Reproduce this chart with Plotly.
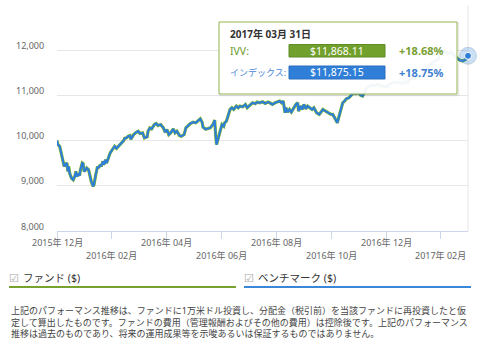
import plotly.graph_objects as go

# ---- data -------------------------------------------------------------
dates = [
    "2015-12-31", "2016-01-01", "2016-01-03", "2016-01-05", "2016-01-06", "2016-01-08",
    "2016-01-09", "2016-01-11", "2016-01-12", "2016-01-13", "2016-01-14", "2016-01-16",
    "2016-01-18", "2016-01-20", "2016-01-21", "2016-01-22", "2016-01-24", "2016-01-25",
    "2016-01-26", "2016-01-28", "2016-01-29", "2016-01-30", "2016-02-01", "2016-02-02",
    "2016-02-04", "2016-02-06", "2016-02-07", "2016-02-09", "2016-02-10", "2016-02-12",
    "2016-02-14", "2016-02-15", "2016-02-17", "2016-02-18", "2016-02-20", "2016-02-21",
    "2016-02-23", "2016-02-24", "2016-02-26", "2016-02-28", "2016-03-01", "2016-03-02",
    "2016-03-04", "2016-03-06", "2016-03-08", "2016-03-10", "2016-03-12", "2016-03-14",
    "2016-03-15", "2016-03-17", "2016-03-19", "2016-03-21", "2016-03-22", "2016-03-25",
    "2016-03-28", "2016-03-30", "2016-04-01", "2016-04-04", "2016-04-06", "2016-04-09",
    "2016-04-10", "2016-04-12", "2016-04-14", "2016-04-17", "2016-04-19", "2016-04-21",
    "2016-04-24", "2016-04-27", "2016-04-29", "2016-05-01", "2016-05-03", "2016-05-05",
    "2016-05-08", "2016-05-10", "2016-05-12", "2016-05-15", "2016-05-17", "2016-05-20",
    "2016-05-22", "2016-05-25", "2016-05-27", "2016-05-30", "2016-06-02", "2016-06-04",
    "2016-06-07", "2016-06-09", "2016-06-10", "2016-06-13", "2016-06-16", "2016-06-18",
    "2016-06-21", "2016-06-23", "2016-06-24", "2016-06-25", "2016-06-27", "2016-06-29",
    "2016-07-01", "2016-07-03", "2016-07-04", "2016-07-06", "2016-07-08", "2016-07-10",
    "2016-07-12", "2016-07-14", "2016-07-16", "2016-07-17", "2016-07-19", "2016-07-21",
    "2016-07-24", "2016-07-27", "2016-07-29", "2016-08-01", "2016-08-04", "2016-08-07",
    "2016-08-09", "2016-08-12", "2016-08-15", "2016-08-18", "2016-08-21", "2016-08-23",
    "2016-08-26", "2016-08-29", "2016-08-31", "2016-09-03", "2016-09-05", "2016-09-07",
    "2016-09-09", "2016-09-10", "2016-09-12", "2016-09-14", "2016-09-16", "2016-09-18",
    "2016-09-21", "2016-09-23", "2016-09-24", "2016-09-26", "2016-09-28", "2016-09-30",
    "2016-10-02", "2016-10-04", "2016-10-07", "2016-10-09", "2016-10-11", "2016-10-14",
    "2016-10-17", "2016-10-19", "2016-10-21", "2016-10-24", "2016-10-27", "2016-10-30",
    "2016-11-01", "2016-11-03", "2016-11-05", "2016-11-06", "2016-11-08", "2016-11-10",
    "2016-11-12", "2016-11-14", "2016-11-16", "2016-11-19", "2016-11-21", "2016-11-24",
    "2016-11-26", "2016-11-29", "2016-12-02", "2016-12-04", "2016-12-06", "2016-12-08",
    "2016-12-11", "2016-12-15", "2016-12-18", "2016-12-21", "2016-12-25", "2016-12-28",
    "2016-12-31", "2017-01-03", "2017-01-07", "2017-01-10", "2017-01-13", "2017-01-17",
    "2017-01-20", "2017-01-23", "2017-01-27", "2017-01-30", "2017-02-02", "2017-02-06",
    "2017-02-09", "2017-02-12", "2017-02-16", "2017-02-19", "2017-02-22", "2017-02-26",
    "2017-03-01", "2017-03-03", "2017-03-05", "2017-03-09", "2017-03-12", "2017-03-15",
    "2017-03-19", "2017-03-21", "2017-03-23", "2017-03-25", "2017-03-28", "2017-03-31",
]

index_values = [
    10000, 9911, 9873, 9689, 9540, 9429,
    9467, 9504, 9318, 9429, 9282, 9171,
    9133, 9222, 9318, 9207, 9267, 9222,
    9356, 9504, 9489, 9318, 9356, 9393,
    9356, 9171, 9096, 8990, 9022, 9244,
    9429, 9393, 9467, 9429, 9540, 9467,
    9578, 9504, 9637, 9727, 9790, 9815,
    9874, 9830, 9874, 9930, 9960, 10000,
    10050, 10060, 10096, 10110, 10030, 10133,
    10185, 10207, 10156, 10170, 10059, 10081,
    10207, 10281, 10259, 10355, 10378, 10333,
    10355, 10281, 10185, 10244, 10133, 10170,
    10259, 10170, 10207, 10111, 10096, 10133,
    10281, 10355, 10378, 10407, 10393, 10430,
    10481, 10407, 10300, 10250, 10270, 10281,
    10355, 10452, 10133, 9911, 10059, 10244,
    10355, 10318, 10393, 10430, 10578, 10689,
    10726, 10689, 10741, 10763, 10726, 10763,
    10748, 10800, 10726, 10778, 10837, 10815,
    10852, 10837, 10859, 10822, 10852, 10837,
    10800, 10837, 10852, 10874, 10837, 10874,
    10615, 10726, 10630, 10689, 10630, 10704,
    10800, 10837, 10652, 10763, 10689, 10800,
    10704, 10763, 10726, 10689, 10726, 10615,
    10578, 10630, 10689, 10652, 10615, 10578,
    10578, 10504, 10430, 10393, 10541, 10689,
    10837, 10874, 10926, 10948, 11000, 11059,
    11037, 11059, 11000, 10985, 11059, 11148,
    11200, 11230, 11220, 11240, 11210, 11200,
    11190, 11250, 11290, 11280, 11290, 11260,
    11300, 11280, 11420, 11370, 11400, 11440,
    11500, 11560, 11680, 11720, 11760, 11800,
    12010, 11990, 11980, 11920, 11960, 11900,
    11820, 11790, 11770, 11760, 11790, 11875.15,
]

# the fund tracks the index almost exactly; only the closing value differs
fund_values = index_values[:-1] + [11868.11]

fund_name = "IVV"
index_name = "インデックス"
fund_return = "+18.68%"
index_return = "+18.75%"
last_date_label = "2017年 03月 31日"

tick_dates = ["2015-12-31", "2016-02-29", "2016-04-30", "2016-06-30",
              "2016-08-31", "2016-10-31", "2016-12-31", "2017-02-28"]
tick_labels = ["2015年 12月", "2016年 02月", "2016年 04月", "2016年 06月",
               "2016年 08月", "2016年 10月", "2016年 12月", "2017年 02月"]
y_ticks = [8000, 9000, 10000, 11000, 12000, 13000]
y_labels = ["8,000", "9,000", "10,000", "11,000", "12,000"]

legend_labels = ["ファンド ($)", "ベンチマーク ($)"]
note_lines = [
    "上記のパフォーマンス推移は、ファンドに1万米ドル投資し、分配金（税引前）を当該ファンドに再投資したと仮",
    "定して算出したものです。ファンドの費用（管理報酬およびその他の費用）は控除後です。上記のパフォーマンス",
    "推移は過去のものであり、将来の運用成果等を示唆あるいは保証するものではありません。",
]

# ---- styling ----------------------------------------------------------
W, H = 480, 342
ML, MR, MT, MB = 57, 12, 5, 111
PW, PH = W - ML - MR, H - MT - MB
FONT = "Noto Sans, Noto Sans CJK JP, sans-serif"
GREEN, BLUE = "#8bbc21", "#2f7ed8"


def px(x):
    return (x - ML) / PW


def py(y):
    return (H - MB - y) / PH


def text(x, y, s, size, color, anchor="left", bold=False, family=FONT, yanchor="middle"):
    return dict(xref="paper", yref="paper", x=px(x), y=py(y), text=f"<b>{s}</b>" if bold else s,
                showarrow=False, xanchor=anchor, yanchor=yanchor, align="left",
                font=dict(family=family, size=size, color=color), borderpad=0)


fig = go.Figure()
fig.add_trace(go.Scatter(x=dates, y=fund_values, mode="lines", name=fund_name,
                         line=dict(color=GREEN, width=3.2), hoverinfo="skip"))
fig.add_trace(go.Scatter(x=dates, y=index_values, mode="lines", name=index_name,
                         line=dict(color=BLUE, width=2.2), hoverinfo="skip"))
# hover halo and point at the last date
fig.add_trace(go.Scatter(x=[dates[-1]], y=[index_values[-1]], mode="markers", cliponaxis=False,
                         marker=dict(size=17, color="rgba(47,126,216,0.25)",
                                     line=dict(color="rgba(120,150,180,0.35)", width=1)),
                         hoverinfo="skip"))
fig.add_trace(go.Scatter(x=[dates[-1]], y=[index_values[-1]], mode="markers", cliponaxis=False,
                         marker=dict(size=7, color=BLUE, line=dict(color="white", width=1)),
                         hoverinfo="skip"))

shapes = [
    # right plot border
    dict(type="line", xref="paper", yref="paper", x0=1, x1=1, y0=0, y1=1,
         line=dict(color="#e6e6e6", width=1), layer="below"),
    # tooltip shadow + box
    dict(type="rect", xref="paper", yref="paper", x0=px(220), x1=px(458.5), y0=py(95.5), y1=py(23),
         line=dict(color="rgba(0,0,0,0.08)", width=1.5), fillcolor="rgba(0,0,0,0)", layer="above"),
    dict(type="rect", xref="paper", yref="paper", x0=px(219), x1=px(457), y0=py(94), y1=py(22),
         line=dict(color="#93b552", width=1), fillcolor="rgba(255,255,255,0.94)", layer="above"),
    dict(type="rect", xref="paper", yref="paper", x0=px(289), x1=px(385), y0=py(57), y1=py(44.5),
         line=dict(color="#5f8c24", width=1), fillcolor="#72a02d", layer="above"),
    dict(type="rect", xref="paper", yref="paper", x0=px(289), x1=px(385), y0=py(79), y1=py(66),
         line=dict(color="#2a6fc0", width=1), fillcolor=BLUE, layer="above"),
    # legend underlines
    dict(type="line", xref="paper", yref="paper", x0=px(9), x1=px(236), y0=py(287), y1=py(287),
         line=dict(color="#77a22f", width=2)),
    dict(type="line", xref="paper", yref="paper", x0=px(244), x1=px(471), y0=py(287), y1=py(287),
         line=dict(color="#3a86d8", width=2)),
]

ann = []
# y-axis labels sit just above their gridlines
for v, lab in zip(y_ticks, y_labels):
    y_pix = H - MB - (v - y_ticks[0]) / (y_ticks[-1] - y_ticks[0]) * PH
    ann.append(text(45, y_pix - 5, lab, 9, "#666666", anchor="right"))
# x-axis labels alternate between two rows
for i, (d, lab) in enumerate(zip(tick_dates, tick_labels)):
    ann.append(dict(xref="x", yref="paper", x=d, y=0, yshift=-(11 if i % 2 == 0 else 24),
                    text=lab, showarrow=False, xanchor="center", yanchor="middle",
                    font=dict(family=FONT, size=9, color="#666666")))

# tooltip contents
ann += [
    text(229, 34, last_date_label, 10, "#333333", bold=True),
    text(229, 50.5, fund_name + ":", 10.5, "#6d9a2a"),
    text(229, 72, index_name + ":", 9, "#4a86d8"),
    text(337, 50.5, f"${fund_values[-1]:,.2f}", 10.5, "white", anchor="center"),
    text(337, 72.5, f"${index_values[-1]:,.2f}", 10.5, "white", anchor="center"),
    text(398, 50.5, fund_return, 11, "#78a032", bold=True),
    text(398, 72.5, index_return, 11, "#3f7fd2", bold=True),
]

# legend row
ann += [
    text(13.5, 278.5, "☑", 11, "#a8a8a8", anchor="center", family="DejaVu Sans"),
    text(22, 278, legend_labels[0], 10.5, "#333333"),
    text(248.5, 278.5, "☑", 11, "#a8a8a8", anchor="center", family="DejaVu Sans"),
    text(257, 278, legend_labels[1], 10.5, "#333333"),
]

# disclaimer paragraph (one block, three lines)
ann.append(text(10, 303, "<br>".join(note_lines), 9, "#444444", yanchor="top"))

fig.update_layout(
    width=W, height=H,
    margin=dict(l=ML, r=MR, t=MT, b=MB, pad=0),
    plot_bgcolor="white", paper_bgcolor="white",
    showlegend=False,
    xaxis=dict(type="date", range=[dates[0], dates[-1]], showgrid=False,
               showline=True, linecolor="#ccd6eb", linewidth=1,
               ticks="outside", ticklen=7, tickcolor="#ccd6eb", tickwidth=1,
               tickvals=tick_dates, showticklabels=False, zeroline=False, fixedrange=True),
    yaxis=dict(range=[y_ticks[0], y_ticks[-1]], tickvals=y_ticks, showgrid=True,
               gridcolor="#e6e6e6", gridwidth=1, showticklabels=False, zeroline=False,
               showline=False, ticks="", fixedrange=True),
    shapes=shapes,
    annotations=ann,
)

fig.write_html("out.html")
